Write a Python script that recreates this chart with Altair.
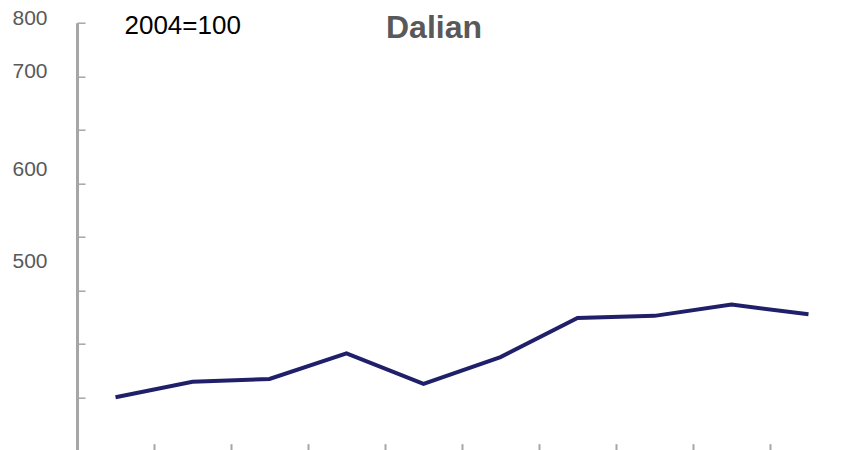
import altair as alt
import pandas as pd

# Data (index, 2004 = 100)
years = ["2004", "2005", "2006", "2007", "2008", "2009", "2010", "2011", "2012", "2013"]
index_values = [100, 129, 134, 182, 125, 175, 248, 252, 273, 255]
y_tick_values = [100, 200, 300, 400, 500, 600, 700, 800]

df = pd.DataFrame({"year": years, "value": index_values})

FONT = "Liberation Sans"
GRAY = "#a6a6a6"
LABEL_GRAY = "#595959"

label_offset_expr = (
    "datum.value == 800 ? -3.9 : datum.value == 700 ? -4.8 : "
    "datum.value == 600 ? 40 : datum.value == 500 ? 78 : 0"
)

chart = (
    alt.Chart(df)
    .mark_line(color="#20206a", strokeWidth=4)
    .encode(
        x=alt.X(
            "year:O",
            sort=years,
            scale=alt.Scale(type="band", paddingInner=0, paddingOuter=0),
            axis=alt.Axis(
                title="Dalian",
                titleFont=FONT,
                titleFontSize=32,
                titleFontWeight="bold",
                titleColor=LABEL_GRAY,
                titleAlign="center",
                titleBaseline="alphabetic",
                titleX=356.5,
                titleY=-406,
                labels=False,
                domain=False,
                grid=False,
                ticks=True,
                tickBand="extent",
                tickSize=7,
                tickWidth=2,
                tickColor=GRAY,
                offset=-7,
            ),
        ),
        y=alt.Y(
            "value:Q",
            scale=alt.Scale(domain=[0, 800], nice=False, zero=True),
            axis=alt.Axis(
                values=y_tick_values,
                labelExpr="datum.value >= 500 ? datum.label : ''",
                labelOffset={"expr": label_offset_expr},
                labelFont=FONT,
                labelFontSize=21,
                labelColor=LABEL_GRAY,
                labelPadding=30,
                ticks=False,
                tickSize=0,
                domain=True,
                domainColor=GRAY,
                domainWidth=3,
                grid=True,
                gridColor=GRAY,
                gridWidth=1.5,
                gridDash=[8, 2000],
                title="2004=100",
                titleAngle=0,
                titleAlign="left",
                titleBaseline="alphabetic",
                titleX=47,
                titleY=10.5,
                titleFont=FONT,
                titleFontSize=26,
                titleFontWeight="normal",
                titleColor="#000000",
            ),
        ),
    )
    .properties(
        width=770,
        height=428,
        padding={"left": 69, "top": 14.7, "right": -14, "bottom": 0},
        autosize=alt.AutoSizeParams(type="none"),
        background="white",
    )
    .configure_view(stroke=None)
)

chart.save("out.html", embed_options={"renderer": "svg", "actions": False})
